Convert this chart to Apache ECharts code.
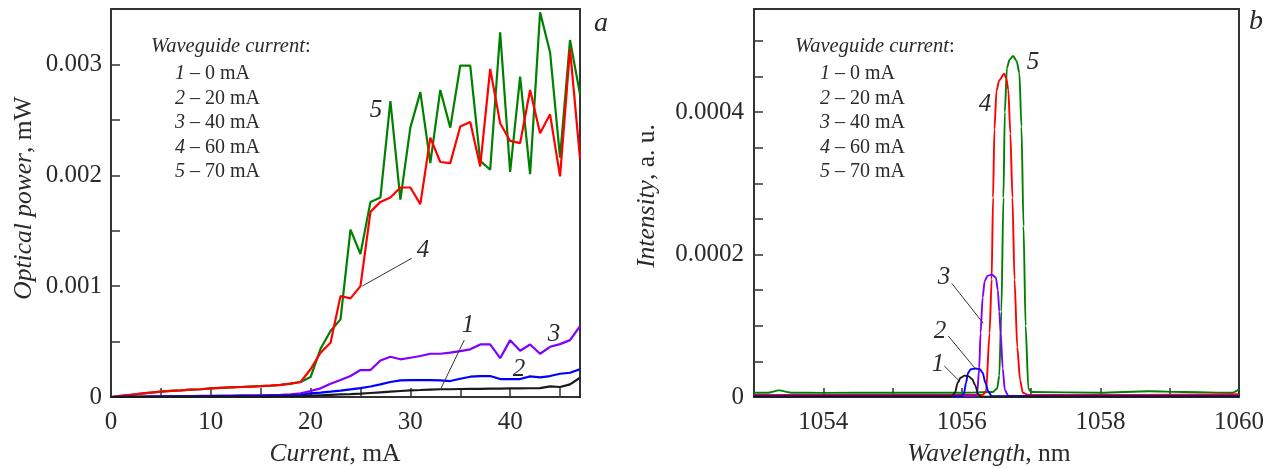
<!DOCTYPE html>
<html><head><meta charset="utf-8">
<script src="https://cdn.jsdelivr.net/npm/echarts@6/dist/echarts.min.js"></script>
<style>html,body{margin:0;padding:0;background:#fff}#c{width:1277px;height:468px}</style>
</head><body><div id="c"></div>
<script>
// ---- Panel a: optical power vs current ----
const current = [0,1,2,3,4,5,6,7,8,9,10,11,12,13,14,15,16,17,18,19,20,21,22,23,24,25,26,27,28,29,30,31,32,33,34,35,36,37,38,39,40,41,42,43,44,45,46,47];
const power1 = [0,0,0.000001,0.000001,0.000001,0.000002,0.000002,0.000002,0.000002,0.000003,0.000003,0.000003,0.000003,0.000004,0.000004,0.000004,0.000004,0.000005,0.000005,0.000006,0.000012,0.000016,0.00002,0.000023,0.000026,0.00003,0.000036,0.000042,0.000048,0.000054,0.00006,0.000063,0.000067,0.00007,0.00007,0.000072,0.000073,0.000074,0.000075,0.000076,0.000078,0.000078,0.000079,0.00008,0.000096,0.00009,0.000114,0.000174];
const power2 = [0,0.000001,0.000002,0.000002,0.000003,0.000004,0.000004,0.000005,0.000006,0.000007,0.000007,0.000008,0.000009,0.00001,0.00001,0.000011,0.000012,0.000013,0.000015,0.000018,0.000033,0.00004,0.000048,0.000058,0.000069,0.00008,0.000095,0.000114,0.000135,0.00015,0.000153,0.000153,0.000153,0.00015,0.000144,0.000165,0.000183,0.000189,0.000189,0.000162,0.000162,0.000162,0.000186,0.000177,0.000189,0.00021,0.000219,0.00025];
const power3 = [0,0.000002,0.000003,0.000004,0.000005,0.000006,0.000007,0.000008,0.000009,0.00001,0.000011,0.000012,0.000013,0.000014,0.000015,0.000016,0.000018,0.00002,0.000024,0.000033,0.000054,0.000078,0.00012,0.000153,0.00019,0.000243,0.000243,0.00033,0.000363,0.00034,0.000354,0.00037,0.00039,0.00039,0.0004,0.000414,0.00043,0.000474,0.000474,0.00035,0.000513,0.000417,0.000474,0.00039,0.000453,0.000477,0.000513,0.00064];
const power4 = [0,0.00001,0.00002,0.00003,0.00004,0.000048,0.000055,0.00006,0.000066,0.00007,0.000078,0.000082,0.000086,0.00009,0.000094,0.000098,0.000103,0.00011,0.00012,0.000135,0.00025,0.0004,0.00049,0.00091,0.00089,0.001,0.00167,0.00176,0.0018,0.00189,0.00189,0.00174,0.00234,0.00212,0.00211,0.00244,0.00248,0.00208,0.00296,0.00247,0.00231,0.00229,0.00277,0.00238,0.00255,0.00199,0.00314,0.00215];
const power5 = [0,0.00001,0.00002,0.00003,0.00004,0.000048,0.000055,0.00006,0.000066,0.00007,0.000078,0.000082,0.000086,0.00009,0.000094,0.000098,0.000103,0.00011,0.00012,0.000135,0.00018,0.000435,0.000595,0.0007,0.00151,0.00129,0.00176,0.0018,0.00267,0.00178,0.00243,0.00275,0.00211,0.00277,0.00243,0.00299,0.00299,0.00213,0.00205,0.00329,0.00203,0.00289,0.00201,0.00347,0.00311,0.00216,0.00322,0.00273];
const xTicksA = ['0','10','20','30','40'];
const yTicksA = ['0','0.001','0.002','0.003'];

// ---- Panel b: spectra ----
const wl1 = [1053,1055.85,1055.90,1055.94,1055.98,1056.04,1056.10,1056.15,1056.19,1056.24,1056.28,1060];
const int1 = [0.0000005,0.0000005,0.000006,0.00002,0.000027,0.00003,0.000029,0.000025,0.000017,0.000003,0.0000005,0.0000005];
const wl2 = [1053,1056.0,1056.03,1056.06,1056.09,1056.13,1056.20,1056.26,1056.30,1056.34,1056.38,1056.43,1060];
const int2 = [0.000001,0.000001,0.000005,0.00002,0.000034,0.000039,0.00004,0.000039,0.000034,0.00002,0.000008,0.000001,0.000001];
const wl3 = [1053,1056.18,1056.22,1056.25,1056.27,1056.30,1056.33,1056.37,1056.43,1056.49,1056.52,1056.54,1056.56,1056.59,1056.62,1056.67,1060];
const int3 = [0.0000015,0.0000015,0.000004,0.00004,0.00009,0.00014,0.000163,0.00017,0.000172,0.000168,0.00015,0.00012,0.00009,0.00004,0.00001,0.0000015,0.0000015];
const wl4 = [1053,1054.5,1056.30,1056.35,1056.40,1056.43,1056.45,1056.47,1056.50,1056.54,1056.61,1056.64,1056.67,1056.70,1056.73,1056.76,1056.80,1056.84,1056.88,1056.95,1058.5,1060];
const int4 = [0.000003,0.000003,0.000003,0.000008,0.00009,0.000165,0.00028,0.000376,0.00043,0.000445,0.000454,0.000448,0.000432,0.00037,0.00028,0.000165,0.00007,0.000024,0.000006,0.000003,0.000003,0.000004];
const wl5 = [1053,1053.2,1053.36,1053.55,1054,1055,1056,1056.45,1056.51,1056.54,1056.57,1056.60,1056.62,1056.65,1056.69,1056.74,1056.79,1056.83,1056.86,1056.89,1056.92,1056.96,1057.0,1058,1058.7,1059.2,1059.9,1060];
const int5 = [0.000006,0.000006,0.0000093,0.000006,0.0000058,0.000006,0.000006,0.000007,0.000012,0.00003,0.00012,0.00028,0.0004,0.000462,0.000474,0.000479,0.000472,0.000455,0.00038,0.00024,0.0001,0.000012,0.000007,0.000006,0.000008,0.000007,0.000006,0.000011];
const xTicksB = ['1054','1056','1058','1060'];
const yTicksB = ['0','0.0002','0.0004'];

const legendItems = [['1','0 mA'],['2','20 mA'],['3','40 mA'],['4','60 mA'],['5','70 mA']];
const colors = ['#1a1a1a','#0000ff','#8000ff','#ff0000','#008000'];

const FONT = '"Liberation Serif","DejaVu Serif",serif';
const AX = '#333';

function pairs(xs, ys){ return xs.map((x,i)=>[x, ys[i]]); }
function inList(v, list){ const f = list.find(t => Math.abs(parseFloat(t) - v) < 1e-9); return f === undefined ? '' : f; }

const chart = echarts.init(document.getElementById('c'), null, {renderer:'canvas'});

const baseAxis = {
  axisLine:{show:true, onZero:false, lineStyle:{color:AX, width:2}},
  axisTick:{show:true, inside:true, length:9, lineStyle:{color:AX, width:1.5}},
  splitLine:{show:false},
  axisLabel:{color:'#2a2a2a', fontFamily:FONT, fontSize:25}
};

const grids = [
  {left:111, top:9, width:469, height:388, show:true, borderColor:AX, borderWidth:2, backgroundColor:'transparent'},
  {left:754, top:9, width:485, height:388, show:true, borderColor:AX, borderWidth:2, backgroundColor:'transparent'}
];

const xAxes = [
  Object.assign({}, baseAxis, {type:'value', gridIndex:0, min:0, max:47, interval:5,
    axisLabel:Object.assign({}, baseAxis.axisLabel, {margin:13, formatter:v=>inList(v,xTicksA)})}),
  Object.assign({}, baseAxis, {type:'value', gridIndex:1, min:1053, max:1060, interval:1,
    axisLabel:Object.assign({}, baseAxis.axisLabel, {margin:13, formatter:v=>inList(v,xTicksB)})})
];
const yAxes = [
  Object.assign({}, baseAxis, {type:'value', gridIndex:0, min:0, max:0.0035, interval:0.0005,
    axisLabel:Object.assign({}, baseAxis.axisLabel, {margin:9, formatter:v=>inList(v,yTicksA)})}),
  Object.assign({}, baseAxis, {type:'value', gridIndex:1, min:0, max:0.000545, interval:0.00005,
    axisLabel:Object.assign({}, baseAxis.axisLabel, {margin:10, formatter:v=>inList(v,yTicksB)})})
];

const powers = [power1, power2, power3, power4, power5];
const wls = [wl1, wl2, wl3, wl4, wl5];
const ints = [int1, int2, int3, int4, int5];
const series = [];
[4,3,2,1,0].forEach(k=>{
  series.push({type:'line', xAxisIndex:0, yAxisIndex:0, data:pairs(current, powers[k]), showSymbol:false,
    lineStyle:{color:colors[k], width:2.2}, itemStyle:{color:colors[k]}, z:3, animation:false});
});
[4,3,2,1,0].forEach(k=>{
  series.push({type:'line', xAxisIndex:1, yAxisIndex:1, data:pairs(wls[k], ints[k]), showSymbol:false,
    smooth:0.25, smoothMonotone:'x',
    lineStyle:{color:colors[k], width:1.9}, itemStyle:{color:colors[k]}, z:3, animation:false});
});

function txt(x, y, text, opts){
  return {type:'text', x:x, y:y, z:10, style:Object.assign({text:text, fill:'#2a2a2a', font:'25px '+FONT, align:'center', verticalAlign:'middle'}, opts||{})};
}
function itxt(x, y, text, size){ return txt(x, y, text, {font:'italic '+(size||25)+'px '+FONT}); }
function line(x1,y1,x2,y2){ return {type:'line', z:10, shape:{x1:x1,y1:y1,x2:x2,y2:y2}, style:{stroke:'#333', lineWidth:1}}; }

const rich = {
  i:{fontFamily:FONT, fontStyle:'italic', fontSize:25.5, color:'#2a2a2a'},
  r:{fontFamily:FONT, fontSize:25.5, color:'#2a2a2a'},
  li:{fontFamily:FONT, fontStyle:'italic', fontSize:20, color:'#2a2a2a'},
  lr:{fontFamily:FONT, fontSize:20, color:'#2a2a2a'},
  hi:{fontFamily:FONT, fontStyle:'italic', fontSize:20.5, color:'#2a2a2a'},
  hr:{fontFamily:FONT, fontSize:20.5, color:'#2a2a2a'}
};
function rtxt(x, y, text, align, rot){
  const g = {type:'text', x:x, y:y, z:10, style:{text:text, rich:rich, align:align||'left', verticalAlign:'middle', fill:'#2a2a2a'}};
  if (rot) g.rotation = rot;
  return g;
}

const graphics = [];
// axis titles
graphics.push(rtxt(335, 454, '{i|Current}{r|, mA}', 'center'));
graphics.push(rtxt(989, 454, '{i|Wavelength}{r|, nm}', 'center'));
graphics.push(rtxt(24, 198, '{i|Optical power}{r|, mW}', 'center', Math.PI/2));
graphics.push(rtxt(647, 196, '{i|Intensity}{r|, a. u.}', 'center', Math.PI/2));
// panel letters
graphics.push(itxt(601, 24, 'a', 28));
graphics.push(itxt(1256, 22, 'b', 28));
// legends
function legend(hx, ix){
  graphics.push(rtxt(hx, 47, '{hi|Waveguide current}{hr|:}', 'left'));
  const ys = [74, 98.5, 123, 147.5, 172];
  legendItems.forEach((it, i)=>{
    graphics.push(rtxt(ix, ys[i], '{li|'+it[0]+'}{lr| \u2013 '+it[1]+'}', 'left'));
  });
}
legend(151, 175);
legend(795, 820);
// curve labels, panel a
graphics.push(itxt(376, 110, '5'));
graphics.push(itxt(423, 250, '4'));
graphics.push(line(411.7, 258.3, 362.3, 286));
graphics.push(itxt(468, 325, '1'));
graphics.push(line(464.3, 340, 441, 388.3));
graphics.push(itxt(554, 334, '3'));
graphics.push(itxt(519, 369, '2'));
// curve labels, panel b
graphics.push(itxt(1033, 62, '5'));
graphics.push(itxt(985, 104, '4'));
graphics.push(itxt(944, 277, '3'));
graphics.push(line(951.7, 283.3, 983.3, 323.3));
graphics.push(itxt(940, 331, '2'));
graphics.push(line(948.3, 336, 975, 368.3));
graphics.push(itxt(938, 364, '1'));
graphics.push(line(944.3, 366, 960, 381.7));

chart.setOption({
  backgroundColor:'#fff',
  animation:false,
  grid:grids,
  xAxis:xAxes,
  yAxis:yAxes,
  series:series,
  graphic:graphics
});
</script></body></html>
